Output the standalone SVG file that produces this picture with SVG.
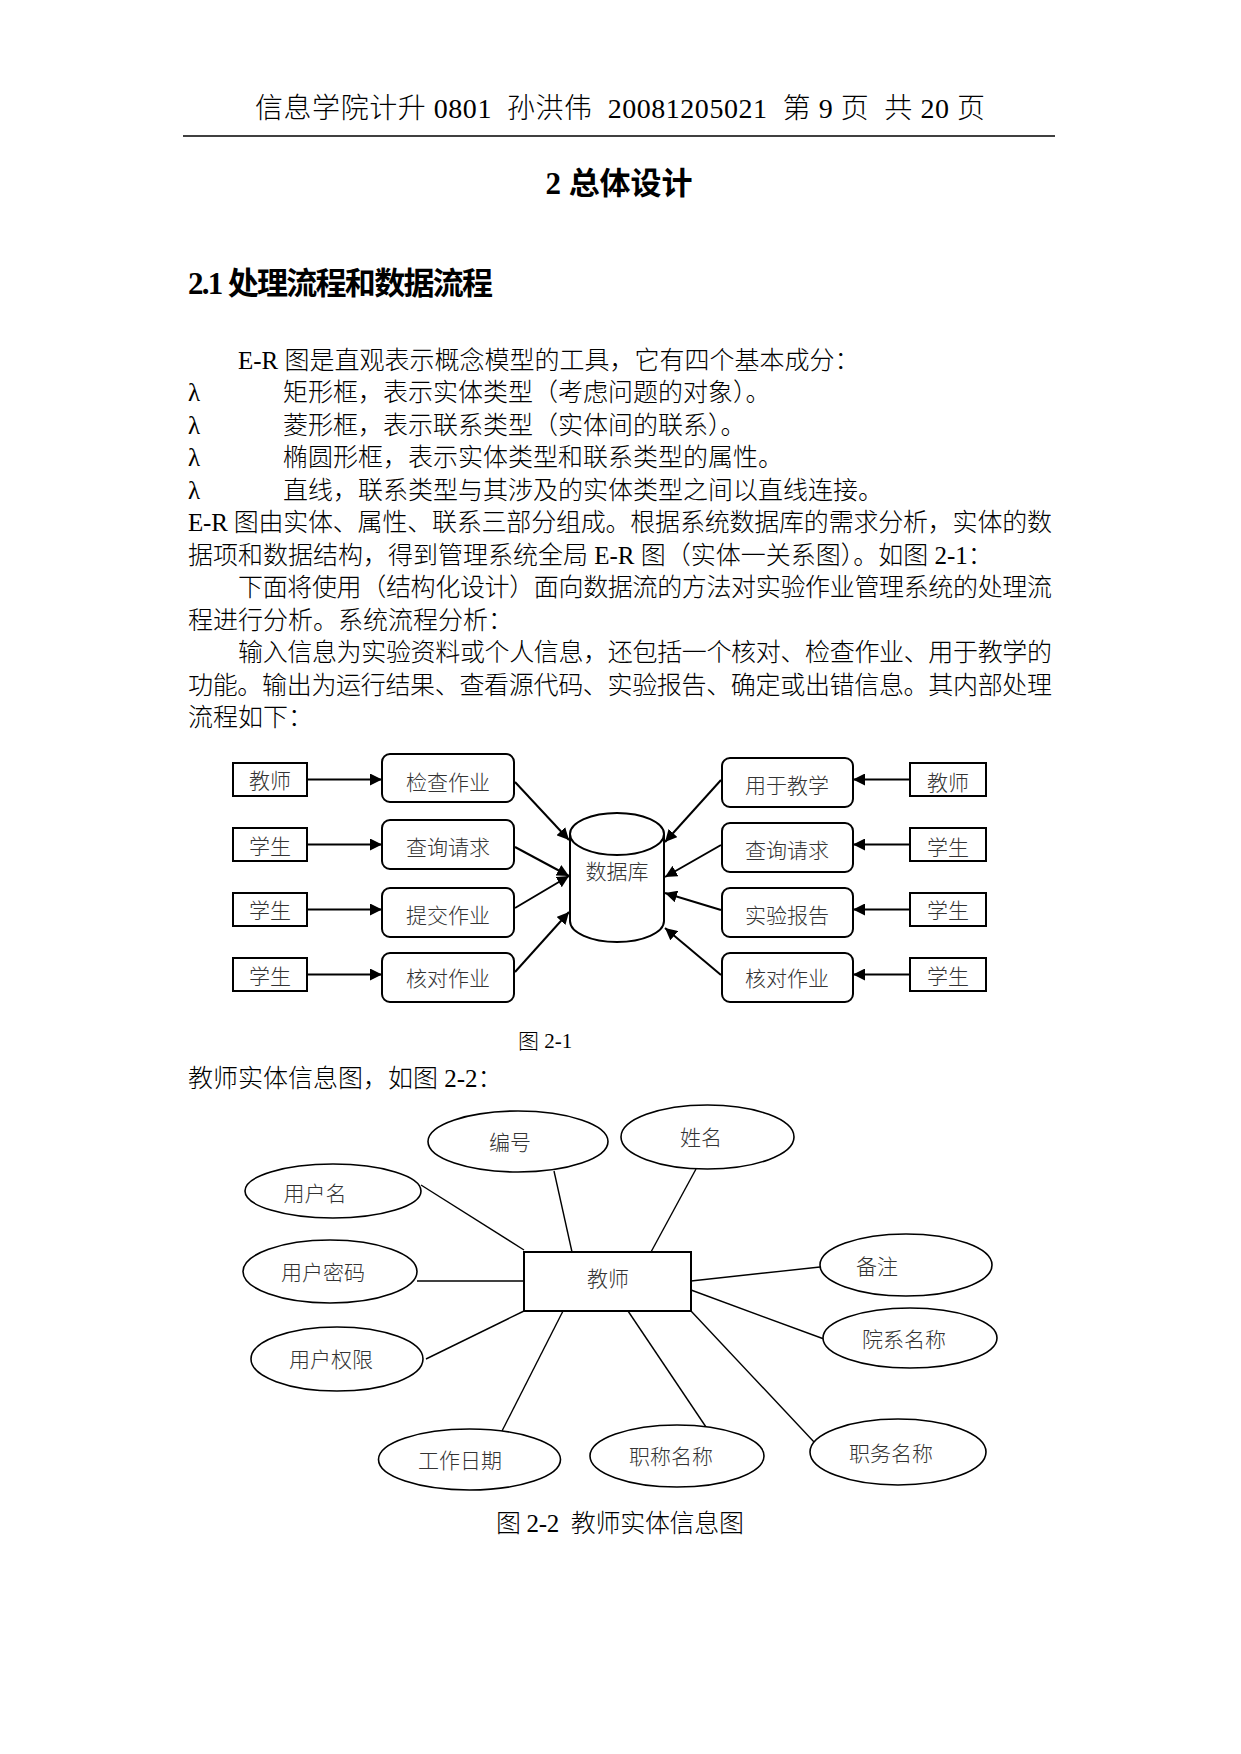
<svg xmlns="http://www.w3.org/2000/svg" width="1241" height="1754" viewBox="0 0 1241 1754">
<style>
  .t { font-family: "Liberation Serif", "Noto Sans CJK SC", serif; font-weight: 300; fill: #000; white-space: pre; }
  .body { font-size: 25px; }
  .h { font-family: "Liberation Serif", "Noto Sans CJK SC", sans-serif; font-weight: bold; font-size: 31px; fill: #000; white-space: pre; }
  .lbl { font-family: "Liberation Serif", "Noto Sans CJK SC", serif; font-weight: 300; font-size: 21px; fill: #333; text-anchor: middle; }
  .box { fill: #fff; stroke: #000; stroke-width: 2; }
  .ell { fill: #fff; stroke: #000; stroke-width: 1.6; }
  .arr { stroke: #000; stroke-width: 2; fill: none; marker-end: url(#ah); }
  .ln { stroke: #000; stroke-width: 1.4; fill: none; }
</style>
<defs>
  <marker id="ah" viewBox="0 0 12 12" refX="12" refY="6" markerWidth="12" markerHeight="12" markerUnits="userSpaceOnUse" orient="auto">
    <path d="M0,0 L12,6 L0,12 z" fill="#000"/>
  </marker>
</defs>
<rect width="1241" height="1754" fill="#fff"/>

<!-- header -->
<text class="t" x="255" y="118" font-size="28" textLength="730">信息学院计升 0801  孙洪伟  20081205021  第 9 页  共 20 页</text>
<line x1="183" y1="136" x2="1055" y2="136" stroke="#000" stroke-width="1.5"/>

<text class="h" x="619" y="194" text-anchor="middle">2 总体设计</text>
<text class="h" x="188" y="294" textLength="305">2.1 处理流程和数据流程</text>

<!-- body text -->
<text class="t body" x="238" y="368.5">E-R 图是直观表示概念模型的工具，它有四个基本成分：</text>
<text class="t body" x="188" y="401">λ</text>
<text class="t body" x="283" y="401">矩形框，表示实体类型（考虑问题的对象）。</text>
<text class="t body" x="188" y="433.5">λ</text>
<text class="t body" x="283" y="433.5">菱形框，表示联系类型（实体间的联系）。</text>
<text class="t body" x="188" y="466">λ</text>
<text class="t body" x="283" y="466">椭圆形框，表示实体类型和联系类型的属性。</text>
<text class="t body" x="188" y="498.5">λ</text>
<text class="t body" x="283" y="498.5">直线，联系类型与其涉及的实体类型之间以直线连接。</text>
<text class="t body" x="188" y="531" textLength="864">E-R 图由实体、属性、联系三部分组成。根据系统数据库的需求分析，实体的数</text>
<text class="t body" x="188" y="563.5">据项和数据结构，得到管理系统全局 E-R 图（实体一关系图）。如图 2-1：</text>
<text class="t body" x="238" y="596" textLength="814">下面将使用（结构化设计）面向数据流的方法对实验作业管理系统的处理流</text>
<text class="t body" x="188" y="628.5">程进行分析。系统流程分析：</text>
<text class="t body" x="238" y="661" textLength="814">输入信息为实验资料或个人信息，还包括一个核对、检查作业、用于教学的</text>
<text class="t body" x="188" y="693.5" textLength="864">功能。输出为运行结果、查看源代码、实验报告、确定或出错信息。其内部处理</text>
<text class="t body" x="188" y="726">流程如下：</text>

<!-- Figure 2-1 connectors -->
<g id="connectors-fig1">
  <line class="arr" x1="307" y1="779.5" x2="382" y2="779.5"/>
  <line class="arr" x1="307" y1="844.5" x2="382" y2="844.5"/>
  <line class="arr" x1="307" y1="909.5" x2="382" y2="909.5"/>
  <line class="arr" x1="307" y1="974.5" x2="382" y2="974.5"/>
  <line class="arr" x1="910" y1="779.5" x2="853" y2="779.5"/>
  <line class="arr" x1="910" y1="844.5" x2="853" y2="844.5"/>
  <line class="arr" x1="910" y1="909.5" x2="853" y2="909.5"/>
  <line class="arr" x1="910" y1="974.5" x2="853" y2="974.5"/>
  <line class="arr" x1="515" y1="782" x2="569" y2="840"/>
  <line class="arr" x1="515" y1="847" x2="569" y2="876"/>
  <line class="arr" x1="515" y1="908" x2="569" y2="876"/>
  <line class="arr" x1="515" y1="972" x2="569" y2="912"/>
  <line class="arr" x1="721" y1="780" x2="665" y2="842"/>
  <line class="arr" x1="721" y1="845" x2="665" y2="877"/>
  <line class="arr" x1="721" y1="910" x2="665" y2="893"/>
  <line class="arr" x1="721" y1="975" x2="665" y2="928"/>
</g>

<!-- Figure 2-1 nodes -->
<g id="src-l1"><rect class="box" x="233" y="763" width="74" height="33"/><text class="lbl" x="270" y="788">教师</text></g>
<g id="src-l2"><rect class="box" x="233" y="828" width="74" height="33"/><text class="lbl" x="270" y="854">学生</text></g>
<g id="src-l3"><rect class="box" x="233" y="893" width="74" height="33"/><text class="lbl" x="270" y="918">学生</text></g>
<g id="src-l4"><rect class="box" x="233" y="958" width="74" height="33"/><text class="lbl" x="270" y="983.5">学生</text></g>

<g id="proc-l1"><rect class="box" x="382" y="754" width="132" height="48" rx="8"/><text class="lbl" x="448" y="789.5">检查作业</text></g>
<g id="proc-l2"><rect class="box" x="382" y="820" width="132" height="49" rx="8"/><text class="lbl" x="448" y="854.5">查询请求</text></g>
<g id="proc-l3"><rect class="box" x="382" y="888" width="132" height="49" rx="8"/><text class="lbl" x="448" y="923">提交作业</text></g>
<g id="proc-l4"><rect class="box" x="382" y="953" width="132" height="49" rx="8"/><text class="lbl" x="448" y="986">核对作业</text></g>

<g id="db">
  <path class="box" d="M570,834 L570,921 A47,21 0 0,0 664,921 L664,834"/>
  <ellipse class="box" cx="617" cy="834" rx="47" ry="21"/>
  <text class="lbl" x="617" y="879">数据库</text>
</g>

<g id="proc-r1"><rect class="box" x="722" y="758" width="131" height="49" rx="8"/><text class="lbl" x="787" y="793">用于教学</text></g>
<g id="proc-r2"><rect class="box" x="722" y="823" width="131" height="49" rx="8"/><text class="lbl" x="787" y="858">查询请求</text></g>
<g id="proc-r3"><rect class="box" x="722" y="888" width="131" height="49" rx="8"/><text class="lbl" x="787" y="923">实验报告</text></g>
<g id="proc-r4"><rect class="box" x="722" y="953" width="131" height="49" rx="8"/><text class="lbl" x="787" y="986">核对作业</text></g>

<g id="src-r1"><rect class="box" x="910" y="763" width="76" height="33"/><text class="lbl" x="948" y="789.5">教师</text></g>
<g id="src-r2"><rect class="box" x="910" y="828" width="76" height="33"/><text class="lbl" x="948" y="854.5">学生</text></g>
<g id="src-r3"><rect class="box" x="910" y="893" width="76" height="33"/><text class="lbl" x="948" y="918">学生</text></g>
<g id="src-r4"><rect class="box" x="910" y="958" width="76" height="33"/><text class="lbl" x="948" y="983.5">学生</text></g>

<text class="t" x="518" y="1048" font-size="21">图 2-1</text>
<text class="t body" x="188" y="1086.5">教师实体信息图，如图 2-2：</text>

<!-- Figure 2-2 connectors -->
<g id="connectors-fig2">
  <line class="ln" x1="421" y1="1185" x2="524" y2="1250"/>
  <line class="ln" x1="554" y1="1171" x2="572" y2="1252"/>
  <line class="ln" x1="696" y1="1169" x2="651" y2="1252"/>
  <line class="ln" x1="417" y1="1281" x2="524" y2="1281" stroke-width="2"/>
  <line class="ln" x1="691" y1="1281" x2="820" y2="1267"/>
  <line class="ln" x1="691" y1="1290" x2="824" y2="1339"/>
  <line class="ln" x1="426" y1="1359" x2="524" y2="1311"/>
  <line class="ln" x1="563" y1="1311" x2="502" y2="1431"/>
  <line class="ln" x1="628" y1="1311" x2="708" y2="1430"/>
  <line class="ln" x1="691" y1="1311" x2="815" y2="1443"/>
</g>

<!-- Figure 2-2 nodes -->
<g id="teacher"><rect class="box" x="524" y="1252" width="167" height="59"/><text class="lbl" x="608" y="1286">教师</text></g>
<g id="attr-bianhao"><ellipse class="ell" cx="518" cy="1141.5" rx="90" ry="30.5"/><text class="lbl" x="510" y="1149.5">编号</text></g>
<g id="attr-xingming"><ellipse class="ell" cx="707.5" cy="1137" rx="86.5" ry="32"/><text class="lbl" x="701" y="1145">姓名</text></g>
<g id="attr-yonghuming"><ellipse class="ell" cx="333" cy="1191" rx="88" ry="27"/><text class="lbl" x="315" y="1201">用户名</text></g>
<g id="attr-mima"><ellipse class="ell" cx="330" cy="1271.5" rx="87" ry="31.5"/><text class="lbl" x="323" y="1280">用户密码</text></g>
<g id="attr-quanxian"><ellipse class="ell" cx="337" cy="1359" rx="86" ry="32"/><text class="lbl" x="331" y="1367">用户权限</text></g>
<g id="attr-beizhu"><ellipse class="ell" cx="906" cy="1265" rx="86" ry="31"/><text class="lbl" x="877" y="1273.5">备注</text></g>
<g id="attr-yuanxi"><ellipse class="ell" cx="910" cy="1338" rx="87" ry="30"/><text class="lbl" x="904" y="1347">院系名称</text></g>
<g id="attr-riqi"><ellipse class="ell" cx="469.5" cy="1459.5" rx="91" ry="30.5"/><text class="lbl" x="460" y="1468">工作日期</text></g>
<g id="attr-zhicheng"><ellipse class="ell" cx="677" cy="1456" rx="87" ry="31"/><text class="lbl" x="671" y="1464">职称名称</text></g>
<g id="attr-zhiwu"><ellipse class="ell" cx="898" cy="1452" rx="88" ry="33"/><text class="lbl" x="891" y="1460.5">职务名称</text></g>

<text class="t" x="496" y="1532" font-size="25" textLength="248">图 2-2  教师实体信息图</text>
</svg>
